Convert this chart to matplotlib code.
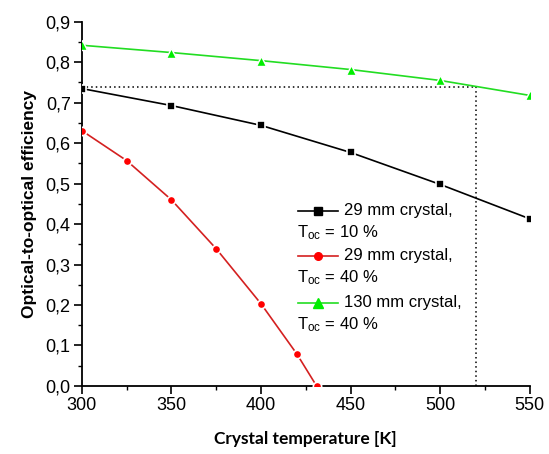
import numpy as np
import matplotlib
matplotlib.use("Agg")
import matplotlib.pyplot as plt
from matplotlib.ticker import MultipleLocator, FuncFormatter

# efficiency vs crystal temperature for three crystal / output coupler combinations
temp_29_10 = [300, 350, 400, 450, 500, 550]
eff_29_10 = [0.735, 0.693, 0.644, 0.577, 0.498, 0.413]

temp_29_40 = [300, 325, 350, 375, 400, 420, 431]
eff_29_40 = [0.631, 0.557, 0.460, 0.339, 0.203, 0.079, 0.0]

temp_130_40 = [300, 350, 400, 450, 500, 550]
eff_130_40 = [0.842, 0.824, 0.804, 0.782, 0.755, 0.718]

crystal_labels = ["29 mm crystal,", "29 mm crystal,", "130 mm crystal,"]
toc_labels = ["T$_{oc}$ = 10 %", "T$_{oc}$ = 40 %", "T$_{oc}$ = 40 %"]

guide_temp = 520
guide_eff = 0.74

plt.rcParams.update({
    "font.family": "Liberation Sans",
    "mathtext.default": "regular",
    "axes.linewidth": 1.3,
})

fig = plt.figure(figsize=(5.49, 4.54), dpi=100)
ax = fig.add_axes([0.149, 0.150, 0.816, 0.802])

styles = [
    dict(color="black", marker="s", ms=6, mfc="black", mew=1.2),
    dict(color="#d42020", marker="o", ms=6, mfc="#ff0000", mew=1.2),
    dict(color="#22dd22", marker="^", ms=7.5, mfc="#00ee00", mew=1.0),
]
series = [(temp_29_10, eff_29_10), (temp_29_40, eff_29_40), (temp_130_40, eff_130_40)]

for (xs, ys), st in zip(series, styles):
    ax.plot(xs, ys, lw=1.2, mec="white", zorder=3, **st)

# dotted guide lines marking the operating point
ax.plot([300, guide_temp], [guide_eff, guide_eff], color="black", lw=1.1,
        ls=(0, (1, 2)), zorder=2)
ax.plot([guide_temp, guide_temp], [0, guide_eff], color="black", lw=1.1,
        ls=(0, (1, 2)), zorder=2)

# legend drawn by hand: the second label line starts under the handle
row_y = [0.481, 0.357, 0.228]
for y, st, name, toc in zip(row_y, styles, crystal_labels, toc_labels):
    ax.plot([0.482, 0.571], [y, y], transform=ax.transAxes, lw=1.2,
            color=st["color"], zorder=4)
    ax.plot([0.5265], [y], transform=ax.transAxes, ls="none", zorder=5,
            marker=st["marker"], ms=st["ms"] - 0.5, mfc=st["mfc"], mec=st["mfc"])
    ax.text(0.585, y, name, transform=ax.transAxes, fontsize=12, va="center")
    ax.text(0.48, y - 0.061, toc, transform=ax.transAxes, fontsize=12, va="center")

ax.set_xlim(300, 550)
ax.set_ylim(0, 0.9)
ax.spines["top"].set_visible(False)
ax.spines["right"].set_visible(False)
ax.xaxis.set_major_locator(MultipleLocator(50))
ax.xaxis.set_minor_locator(MultipleLocator(25))
ax.yaxis.set_major_locator(MultipleLocator(0.1))
ax.yaxis.set_minor_locator(MultipleLocator(0.05))
ax.yaxis.set_major_formatter(FuncFormatter(lambda v, _: f"{v:.1f}".replace(".", ",")))
ax.tick_params(which="major", direction="out", length=6, width=1.2, labelsize=13, pad=2)
ax.tick_params(which="minor", direction="out", length=3, width=1.0)

ax.set_xlabel("Crystal temperature [K]", fontsize=12.5, fontweight="bold",
              family="Lato", labelpad=12)
ax.set_ylabel("Optical-to-optical efficiency", fontsize=12.5, fontweight="bold",
              labelpad=6)

fig.savefig("out.png", dpi=100)
